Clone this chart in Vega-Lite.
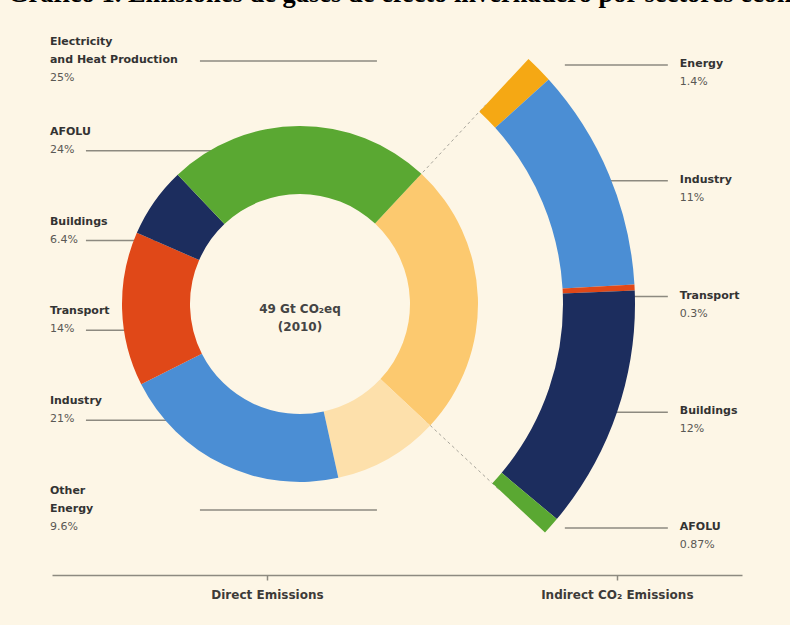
{
  "$schema": "https://vega.github.io/schema/vega-lite/v6.json",
  "width": 600,
  "height": 608,
  "autosize": {"type": "none"},
  "padding": {"left": 0, "top": 0, "right": 190, "bottom": 17},
  "background": "#fdf6e6",
  "title": {
    "text": "Gráfico 1. Emisiones de gases de efecto invernadero por sectores económicos",
    "anchor": "start",
    "frame": "group",
    "font": "Liberation Serif",
    "fontSize": 26.5,
    "fontWeight": "bold",
    "color": "#000000",
    "baseline": "alphabetic",
    "offset": -28,
    "dx": 8
  },
  "config": {
    "view": {"stroke": null},
    "axisX": {
      "offset": -33,
      "grid": false,
      "domainColor": "#8d8a80",
      "domainWidth": 1.5,
      "tickColor": "#8d8a80",
      "tickWidth": 1.5,
      "tickSize": 5,
      "labelAngle": 0,
      "labelFont": "DejaVu Sans",
      "labelFontWeight": "bold",
      "labelFontSize": 12,
      "labelColor": "#3d3b38",
      "labelPadding": 9
    }
  },
  "datasets": {
    "direct": [
      {"sector": "Electricity and Heat Production", "label": ["Electricity", "and Heat Production"], "share": 25, "rank": 1, "group": "Direct Emissions"},
      {"sector": "Other Energy", "label": ["Other", "Energy"], "share": 9.6, "rank": 2, "group": "Direct Emissions"},
      {"sector": "Industry", "label": ["Industry"], "share": 21, "rank": 3, "group": "Direct Emissions"},
      {"sector": "Transport", "label": ["Transport"], "share": 14, "rank": 4, "group": "Direct Emissions"},
      {"sector": "Buildings", "label": ["Buildings"], "share": 6.4, "rank": 5, "group": "Direct Emissions"},
      {"sector": "AFOLU", "label": ["AFOLU"], "share": 24, "rank": 6, "group": "Direct Emissions"}
    ],
    "indirect": [
      {"sector": "Energy", "label": ["Energy"], "share": 1.4, "rank": 1, "group": "Indirect CO₂ Emissions"},
      {"sector": "Industry", "label": ["Industry"], "share": 11, "rank": 2, "group": "Indirect CO₂ Emissions"},
      {"sector": "Transport", "label": ["Transport"], "share": 0.3, "rank": 3, "group": "Indirect CO₂ Emissions"},
      {"sector": "Buildings", "label": ["Buildings"], "share": 12, "rank": 4, "group": "Indirect CO₂ Emissions"},
      {"sector": "AFOLU", "label": ["AFOLU"], "share": 0.87, "rank": 5, "group": "Indirect CO₂ Emissions"}
    ],
    "center": [
      {"label": ["49 Gt CO₂eq", "(2010)"]}
    ]
  },
  "resolve": {"scale": {"theta": "independent", "y": "independent"}},
  "layer": [
    {
      "data": {"name": "direct"},
      "transform": [{"filter": "datum.sector === 'Electricity and Heat Production'"}],
      "mark": {"type": "arc", "outerRadius": 272, "innerRadius": 170, "fill": "transparent", "stroke": "#a8a59b", "strokeWidth": 1, "strokeDash": [3, 3]},
      "encoding": {
        "theta": {"field": "share", "type": "quantitative", "stack": true, "scale": {"domain": [0, 100], "range": [0.7505, 7.0337]}}
      }
    },
    {
      "data": {"name": "direct"},
      "transform": [{"filter": "length(datum.label) === 1"}],
      "mark": {"type": "rule", "color": "#8d8a80", "strokeWidth": 1.5, "xOffset": -181, "x2Offset": 33, "yOffset": 25},
      "encoding": {
        "x": {"field": "group", "type": "nominal", "title": null, "scale": {"type": "point", "domain": ["Direct Emissions", "Indirect CO₂ Emissions"], "range": [52, 742], "padding": 0.486, "align": 0.632}},
        "x2": {"field": "group"},
        "y": {"field": "sector", "type": "nominal", "axis": null, "scale": {"type": "point", "domain": ["Electricity and Heat Production", "AFOLU", "Buildings", "Transport", "Industry", "Other Energy"], "padding": 0.885, "align": 0.226}}
      }
    },
    {
      "data": {"name": "direct"},
      "transform": [{"filter": "length(datum.label) === 2"}],
      "mark": {"type": "rule", "color": "#8d8a80", "strokeWidth": 1.5, "xOffset": -67, "x2Offset": 110, "yOffset": 25},
      "encoding": {
        "x": {"field": "group", "type": "nominal", "title": null},
        "x2": {"field": "group"},
        "y": {"field": "sector", "type": "nominal", "axis": null, "scale": {"type": "point", "domain": ["Electricity and Heat Production", "AFOLU", "Buildings", "Transport", "Industry", "Other Energy"], "padding": 0.885, "align": 0.226}}
      }
    },
    {
      "data": {"name": "indirect"},
      "mark": {"type": "rule", "color": "#8d8a80", "strokeWidth": 1.5, "xOffset": -52, "x2Offset": 51, "yOffset": 7},
      "encoding": {
        "x": {"field": "group", "type": "nominal", "title": null},
        "x2": {"field": "group"},
        "y": {"field": "sector", "type": "nominal", "axis": null, "scale": {"type": "point", "domain": ["Energy", "Industry", "Transport", "Buildings", "AFOLU"], "padding": 0.626, "align": 0.4}}
      }
    },
    {
      "data": {"name": "center"},
      "mark": {"type": "arc", "outerRadius": 111, "innerRadius": 0, "fill": "#fdf6e6"},
      "encoding": {}
    },
    {
      "data": {"name": "direct"},
      "mark": {"type": "arc", "outerRadius": 178, "innerRadius": 110},
      "encoding": {
        "theta": {"field": "share", "type": "quantitative", "stack": true, "scale": {"domain": [0, 100], "range": [0.7505, 7.0337]}},
        "order": {"field": "rank", "type": "quantitative"},
        "color": {
          "field": "sector", "type": "nominal", "legend": null,
          "scale": {
            "domain": ["Electricity and Heat Production", "Other Energy", "Industry", "Transport", "Buildings", "AFOLU", "Energy"],
            "range": ["#fcc96f", "#fde0ab", "#4b8ed4", "#e04818", "#1c2d5e", "#5aa832", "#f5a814"]
          }
        }
      }
    },
    {
      "data": {"name": "indirect"},
      "mark": {"type": "arc", "outerRadius": 335, "innerRadius": 263},
      "encoding": {
        "theta": {"field": "share", "type": "quantitative", "stack": true, "scale": {"domain": [0, 25.57], "range": [0.7505, 2.3213]}},
        "order": {"field": "rank", "type": "quantitative"},
        "color": {"field": "sector", "type": "nominal", "legend": null}
      }
    },
    {
      "data": {"name": "direct"},
      "mark": {"type": "text", "align": "left", "baseline": "top", "dx": -217, "font": "DejaVu Sans", "fontWeight": "bold", "fontSize": 11, "lineHeight": 18, "color": "#333333"},
      "encoding": {
        "x": {"field": "group", "type": "nominal", "title": null},
        "y": {"field": "sector", "type": "nominal", "axis": null, "scale": {"type": "point", "domain": ["Electricity and Heat Production", "AFOLU", "Buildings", "Transport", "Industry", "Other Energy"], "padding": 0.885, "align": 0.226}},
        "text": {"field": "label"}
      }
    },
    {
      "data": {"name": "direct"},
      "transform": [
        {"filter": "length(datum.label) === 1"},
        {"calculate": "datum.share + '%'", "as": "pct"}
      ],
      "mark": {"type": "text", "align": "left", "baseline": "top", "dx": -217, "dy": 18, "font": "DejaVu Sans", "fontSize": 11, "color": "#5a5854"},
      "encoding": {
        "x": {"field": "group", "type": "nominal", "title": null},
        "y": {"field": "sector", "type": "nominal", "axis": null, "scale": {"type": "point", "domain": ["Electricity and Heat Production", "AFOLU", "Buildings", "Transport", "Industry", "Other Energy"], "padding": 0.885, "align": 0.226}},
        "text": {"field": "pct"}
      }
    },
    {
      "data": {"name": "direct"},
      "transform": [
        {"filter": "length(datum.label) === 2"},
        {"calculate": "datum.share + '%'", "as": "pct"}
      ],
      "mark": {"type": "text", "align": "left", "baseline": "top", "dx": -217, "dy": 36, "font": "DejaVu Sans", "fontSize": 11, "color": "#5a5854"},
      "encoding": {
        "x": {"field": "group", "type": "nominal", "title": null},
        "y": {"field": "sector", "type": "nominal", "axis": null, "scale": {"type": "point", "domain": ["Electricity and Heat Production", "AFOLU", "Buildings", "Transport", "Industry", "Other Energy"], "padding": 0.885, "align": 0.226}},
        "text": {"field": "pct"}
      }
    },
    {
      "data": {"name": "indirect"},
      "mark": {"type": "text", "align": "left", "baseline": "top", "dx": 63, "font": "DejaVu Sans", "fontWeight": "bold", "fontSize": 11, "lineHeight": 18, "color": "#333333"},
      "encoding": {
        "x": {"field": "group", "type": "nominal", "title": null},
        "y": {"field": "sector", "type": "nominal", "axis": null, "scale": {"type": "point", "domain": ["Energy", "Industry", "Transport", "Buildings", "AFOLU"], "padding": 0.626, "align": 0.4}},
        "text": {"field": "label"}
      }
    },
    {
      "data": {"name": "indirect"},
      "transform": [{"calculate": "datum.share + '%'", "as": "pct"}],
      "mark": {"type": "text", "align": "left", "baseline": "top", "dx": 63, "dy": 18, "font": "DejaVu Sans", "fontSize": 11, "color": "#5a5854"},
      "encoding": {
        "x": {"field": "group", "type": "nominal", "title": null},
        "y": {"field": "sector", "type": "nominal", "axis": null, "scale": {"type": "point", "domain": ["Energy", "Industry", "Transport", "Buildings", "AFOLU"], "padding": 0.626, "align": 0.4}},
        "text": {"field": "pct"}
      }
    },
    {
      "data": {"name": "center"},
      "mark": {"type": "text", "align": "center", "baseline": "top", "font": "DejaVu Sans", "fontWeight": "bold", "fontSize": 12, "lineHeight": 17.5, "color": "#444444"},
      "encoding": {
        "text": {"field": "label"}
      }
    }
  ]
}
